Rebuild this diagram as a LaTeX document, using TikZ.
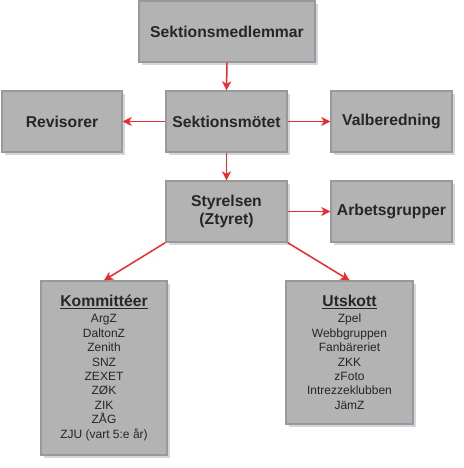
\documentclass[tikz,border=0pt]{standalone}
\usepackage{fontspec}
\setmainfont{Liberation Sans}
\usetikzlibrary{shadows,arrows.meta}
\definecolor{boxfill}{HTML}{B3B3B3}
\definecolor{boxline}{HTML}{999999}
\definecolor{shadowc}{HTML}{C8CAD8}
\definecolor{arrowred}{HTML}{EE2A2A}
\begin{document}
\begin{tikzpicture}[x=1pt,y=-1pt,
  orgbox/.style={draw=boxline, line width=1.3pt, fill=boxfill, rectangle, inner sep=0pt,
    drop shadow={shadow xshift=3pt, shadow yshift=-3pt, fill=shadowc, opacity=0.8},
    font=\fontsize{15.7}{18.5}\selectfont\bfseries, text=black!85, align=center},
  listbox/.style={orgbox, font=\fontsize{12}{14.4}\selectfont},
  link/.style={draw=arrowred, line width=1.5pt, -{Stealth[length=9pt,width=9pt,inset=2.5pt]}}]
\useasboundingbox (0,0) rectangle (463,468);
\node[orgbox, minimum width=176pt, minimum height=61pt] (medl) at (227,31.5) {Sektionsmedlemmar};
\node[orgbox, minimum width=120pt, minimum height=61pt] (rev) at (62,121.5) {Revisorer};
\node[orgbox, minimum width=121pt, minimum height=61pt] (mote) at (226.5,121.5) {Sektionsmötet};
\node[orgbox, minimum width=121pt, minimum height=61pt] (val) at (391.5,121.5) {Valberedning};
\node[orgbox, minimum width=121pt, minimum height=61pt] (styr) at (226.5,211.5) {Styrelsen\\(Ztyret)};
\node[orgbox, minimum width=121pt, minimum height=61pt] (arb) at (391.5,211.5) {Arbetsgrupper};
\node[listbox, minimum width=126pt, minimum height=174pt] (komm) at (104,368)
  {{\fontsize{15.7}{18.5}\selectfont\bfseries\underline{Kommittéer}}\\[1.5pt]
   ArgZ\\DaltonZ\\Zenith\\SNZ\\ZEXET\\ZØK\\ZIK\\ZÅG\\ZJU (vart 5:e år)};
\node[listbox, minimum width=127pt, minimum height=143pt] (utsk) at (349.5,352.5)
  {{\fontsize{15.7}{18.5}\selectfont\bfseries\underline{Utskott}}\\[1.5pt]
   Zpel\\Webbgruppen\\Fanbäreriet\\ZKK\\zFoto\\Intrezzeklubben\\JämZ};
\draw[link] (medl.south) -- (mote.north);
\draw[link] (mote.west) -- (rev.east);
\draw[link] (mote.east) -- (val.west);
\draw[link] (mote.south) -- (styr.north);
\draw[link] (styr.east) -- (arb.west);
\draw[link] (styr.south west) -- (komm.north);
\draw[link] (styr.south east) -- (utsk.north);
\end{tikzpicture}
\end{document}
